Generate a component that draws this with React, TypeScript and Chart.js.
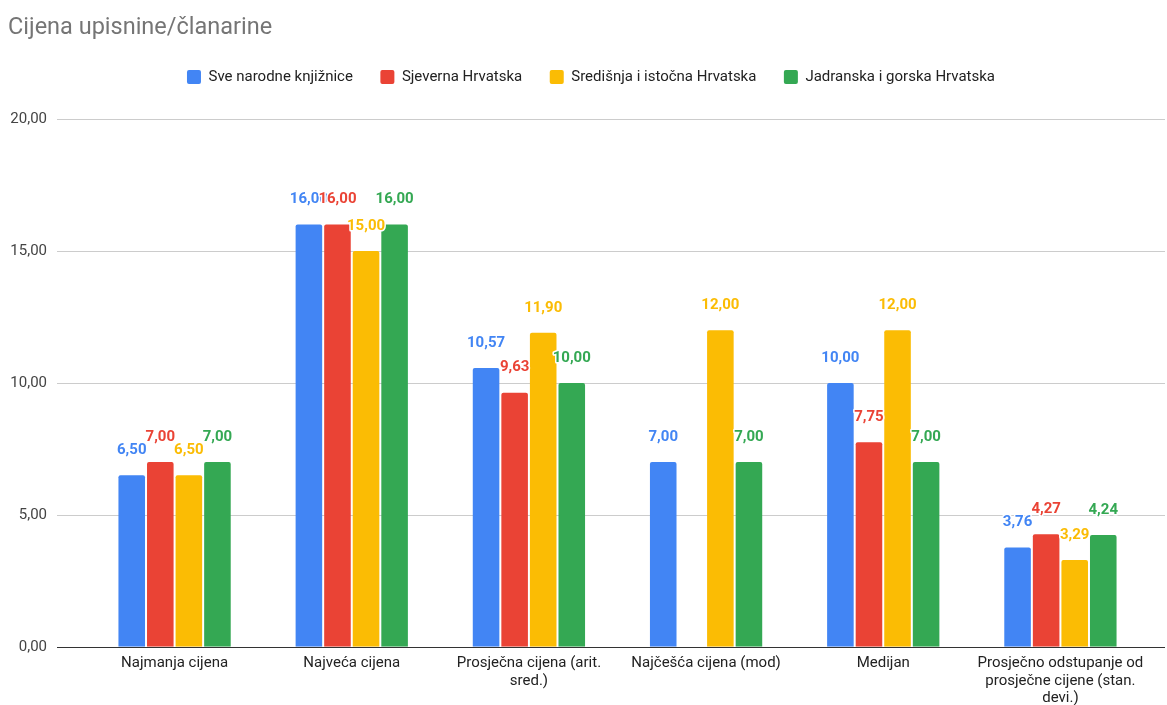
import React, { useEffect, useRef } from "react";
import { Chart, registerables } from "chart.js";

Chart.register(...registerables);

const TITLE = "Cijena upisnine/članarine";

const categories: (string | string[])[] = [
  "Najmanja cijena",
  "Najveća cijena",
  ["Prosječna cijena (arit.", "sred.)"],
  "Najčešća cijena (mod)",
  "Medijan",
  ["Prosječno odstupanje od", "prosječne cijene (stan.", "devi.)"],
];

const seriesNames = [
  "Sve narodne knjižnice",
  "Sjeverna Hrvatska",
  "Središnja i istočna Hrvatska",
  "Jadranska i gorska Hrvatska",
];

const sveNarodne = [6.5, 16.0, 10.57, 7.0, 10.0, 3.76];
const sjeverna = [7.0, 16.0, 9.63, null, 7.75, 4.27];
const sredisnja = [6.5, 15.0, 11.9, 12.0, 12.0, 3.29];
const jadranska = [7.0, 16.0, 10.0, 7.0, 7.0, 4.24];

const colors = ["#4285F4", "#EA4335", "#FBBC04", "#34A853"];

const Y_MIN = 0;
const Y_MAX = 20;
const Y_STEP = 5;

const FONT = "Roboto, 'Noto Sans', Arial, sans-serif";

const fmt = (v: number) => v.toFixed(2).replace(".", ",");

const titlePlugin = {
  id: "customTitle",
  afterDraw(chart: any) {
    const ctx = chart.ctx;
    ctx.save();
    ctx.font = `23.5px ${FONT}`;
    ctx.fillStyle = "#757575";
    ctx.textAlign = "left";
    ctx.textBaseline = "middle";
    ctx.fillText(TITLE, 8, 28);
    ctx.restore();
  },
};

const gridPlugin = {
  id: "wideGrid",
  beforeDatasetsDraw(chart: any) {
    const ctx = chart.ctx;
    const y = chart.scales.y;
    const left = chart.chartArea.left - 29;
    const right = chart.chartArea.right + 16;
    ctx.save();
    y.ticks.forEach((t: any) => {
      const py = Math.round(y.getPixelForValue(t.value)) + 0.5;
      ctx.strokeStyle = t.value === 0 ? "#333333" : "#cccccc";
      ctx.lineWidth = 1;
      ctx.beginPath();
      ctx.moveTo(left, py);
      ctx.lineTo(right, py);
      ctx.stroke();
    });
    ctx.restore();
  },
};

const labelPlugin = {
  id: "barValueLabels",
  afterDatasetsDraw(chart: any) {
    const ctx = chart.ctx;
    ctx.save();
    ctx.font = `bold 15px ${FONT}`;
    ctx.textAlign = "center";
    ctx.textBaseline = "middle";
    ctx.lineJoin = "round";
    chart.data.datasets.forEach((ds: any, i: number) => {
      const meta = chart.getDatasetMeta(i);
      meta.data.forEach((el: any, j: number) => {
        const v = ds.data[j];
        if (v === null || v === undefined) return;
        const text = fmt(v);
        const x = el.x;
        const y = el.y - 25;
        ctx.strokeStyle = "#ffffff";
        ctx.lineWidth = 3;
        ctx.strokeText(text, x, y);
        ctx.fillStyle = ds.backgroundColor;
        ctx.fillText(text, x, y);
      });
    });
    ctx.restore();
  },
};

// extra space under the legend and a small horizontal shift of the legend row
const legendTweak = {
  id: "legendTweak",
  beforeLayout(chart: any) {
    const lg = chart.legend;
    if (lg && !lg._tweaked) {
      const origFit = lg.fit.bind(lg);
      lg.fit = () => {
        origFit();
        lg.height += 25.5;
      };
      const origDraw = lg.draw.bind(lg);
      lg.draw = () => {
        const ctx = chart.ctx;
        ctx.save();
        ctx.translate(16.5, 1);
        origDraw();
        ctx.restore();
      };
      lg._tweaked = true;
    }
  },
};

export default function App() {
  const ref = useRef<HTMLCanvasElement | null>(null);

  useEffect(() => {
    document.body.style.margin = "0";
    const canvas = ref.current;
    if (!canvas) return;
    const allData = [sveNarodne, sjeverna, sredisnja, jadranska];
    const chart = new Chart(canvas, {
      type: "bar",
      data: {
        labels: categories,
        datasets: allData.map((d, i) => ({
          label: seriesNames[i],
          data: d,
          backgroundColor: colors[i],
          borderRadius: { topLeft: 2, topRight: 2, bottomLeft: 0, bottomRight: 0 },
          borderSkipped: "start",
          categoryPercentage: 0.645,
          barPercentage: 0.93,
        })),
      },
      options: {
        animation: false,
        responsive: false,
        layout: { padding: { top: 41, left: 0, right: 18, bottom: -10.5 } },
        plugins: {
          title: { display: false },
          tooltip: { enabled: false },
          legend: {
            display: true,
            position: "top",
            align: "center",
            labels: {
              boxWidth: 14,
              boxHeight: 14,
              useBorderRadius: true,
              borderRadius: 2,
              padding: 27.5,
              color: "#222222",
              font: { family: FONT, size: 15 },
            },
          },
        },
        scales: {
          x: {
            grid: { display: false, drawTicks: false },
            border: { display: false },
            ticks: {
              color: "#222222",
              font: { family: FONT, size: 15, lineHeight: 1.17 },
              padding: 8,
              maxRotation: 0,
              autoSkip: false,
            },
          },
          y: {
            min: Y_MIN,
            max: Y_MAX,
            afterFit: (s: any) => {
              s.width = 86;
            },
            grid: { display: false, drawTicks: false },
            border: { display: false },
            ticks: {
              stepSize: Y_STEP,
              color: "#444444",
              font: { family: FONT, size: 15 },
              padding: 39,
              callback: (v: any) => fmt(Number(v)),
            },
          },
        },
      },
      plugins: [gridPlugin, labelPlugin, titlePlugin, legendTweak],
    });
    return () => chart.destroy();
  }, []);

  return (
    <div style={{ width: 1167, height: 705 }}>
      <canvas ref={ref} width={1167} height={705} style={{ display: "block" }} />
    </div>
  );
}
